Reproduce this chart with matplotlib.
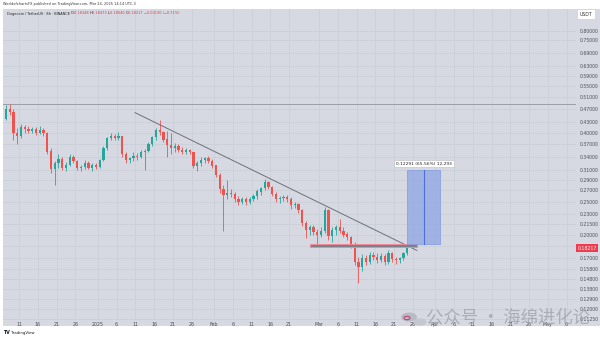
import numpy as np
import pandas as pd
import matplotlib
matplotlib.use("Agg")
import matplotlib.pyplot as plt
import matplotlib.dates as mdates
from matplotlib.patches import Rectangle, Circle

# daily DOGE/USDT candles, 6 Dec 2024 .. 24 Mar 2025
dates = pd.date_range("2024-12-06", "2025-03-24", freq="D")
opens = [.430, .440, .470, .462, .398, .390, .415, .410, .404, .410, .400, .408, .398, .352, .312, .325,
         .335, .315, .322, .340, .330, .314, .316, .326, .315, .320,
         .316, .332, .360, .385, .392, .386, .390, .345, .332, .336, .342, .340, .350, .354, .370, .388,
         .408, .402, .382, .368, .360, .366, .356, .350, .355, .350, .320, .325, .332, .336, .330,
         .320, .300, .272, .262, .266, .264, .255, .250, .254, .250, .255, .260, .268, .274, .286, .276,
         .264, .254, .256, .258, .254, .244, .246, .236, .216, .206, .210, .204,
         .200, .205, .236, .198, .206, .210, .205, .200, .196, .186, .166, .160, .170, .166, .174, .172,
         .168, .173, .166, .176, .169, .168, .170, .176]
highs = [.450, .482, .485, .470, .412, .425, .422, .418, .415, .416, .420, .412, .402, .360, .330, .345,
         .340, .328, .345, .344, .333, .322, .332, .330, .325, .326,
         .335, .365, .388, .398, .396, .402, .392, .350, .340, .350, .348, .355, .358, .375, .392, .412,
         .435, .406, .405, .398, .372, .370, .362, .360, .358, .352, .330, .338, .340, .342, .334,
         .322, .304, .280, .290, .272, .268, .260, .258, .258, .258, .264, .272, .276, .292, .288, .278,
         .268, .260, .262, .262, .258, .250, .248, .238, .220, .214, .214, .208,
         .210, .242, .238, .210, .214, .222, .210, .204, .198, .190, .172, .175, .174, .178, .178, .176,
         .176, .175, .180, .178, .172, .172, .178, .1847]
lows = [.420, .435, .450, .380, .370, .385, .400, .398, .398, .395, .396, .392, .345, .305, .280, .315,
        .310, .308, .318, .325, .310, .308, .312, .312, .308, .312,
        .314, .330, .355, .380, .380, .382, .340, .325, .325, .330, .332, .336, .310, .350, .365, .380,
        .395, .375, .340, .345, .352, .350, .345, .346, .345, .315, .308, .320, .326, .326, .315,
        .295, .265, .205, .255, .258, .250, .245, .246, .244, .246, .252, .255, .262, .270, .272, .260,
        .250, .248, .252, .250, .238, .240, .232, .212, .195, .200, .200, .185,
        .196, .202, .193, .190, .200, .202, .196, .192, .182, .162, .144, .156, .162, .164, .168, .165,
        .166, .162, .164, .166, .164, .165, .168, .1745]
closes = [.440, .470, .462, .398, .390, .415, .410, .404, .410, .400, .408, .398, .352, .312, .325, .335,
          .315, .322, .340, .330, .314, .316, .326, .315, .320, .316,
          .332, .360, .385, .392, .386, .390, .345, .332, .336, .342, .340, .350, .354, .370, .388, .408,
          .402, .382, .368, .360, .366, .356, .350, .355, .350, .320, .325, .332, .336, .330, .320,
          .300, .272, .262, .266, .264, .255, .250, .254, .250, .255, .260, .268, .274, .286, .276, .264,
          .254, .256, .258, .254, .244, .246, .236, .216, .206, .210, .204, .200,
          .205, .236, .198, .206, .210, .205, .200, .196, .186, .166, .160, .170, .166, .174, .172, .168,
          .173, .166, .176, .169, .168, .170, .176, .18217]

# drawings on the chart
trend_dates = ["2025-01-10 22:00", "2025-03-27 01:00"]
trend_prices = [0.4587, 0.1795]
zone_dates = ["2025-02-26 14:00", "2025-03-27 02:00"]
zone_prices = [0.1831, 0.1875]
proj_dates = ["2025-03-24 12:00", "2025-04-02 08:00"]
proj_prices = [0.18748, 0.31039]
level_price = 0.485

price_ticks = [0.80, 0.75, 0.69, 0.63, 0.59, 0.55, 0.51, 0.47, 0.43, 0.40, 0.37, 0.34, 0.31, 0.29,
               0.27, 0.25, 0.23, 0.215, 0.20, 0.185, 0.17, 0.158, 0.148, 0.138, 0.129, 0.12, 0.1125]
time_ticks = ["2024-12-11", "2024-12-16", "2024-12-21", "2024-12-26", "2025-01-01", "2025-01-06",
              "2025-01-11", "2025-01-16", "2025-01-21", "2025-01-26", "2025-02-01", "2025-02-06",
              "2025-02-11", "2025-02-16", "2025-02-21", "2025-03-01", "2025-03-06", "2025-03-11",
              "2025-03-16", "2025-03-21", "2025-03-26", "2025-04-01", "2025-04-06", "2025-04-11",
              "2025-04-16", "2025-04-21", "2025-04-26", "2025-05-01", "2025-05-06"]
time_labels = ["11", "16", "21", "26", "2025", "6", "11", "16", "21", "26", "Feb", "6", "11", "16",
               "21", "Mar", "6", "11", "16", "21", "26", "Apr", "6", "11", "16", "21", "26", "May", "6"]

bg = "#d6d9e1"
grid = "#cacfd8"
up, down = "#26a69a", "#ef5350"

fig = plt.figure(figsize=(6, 3.4), dpi=100, facecolor="white")
ax = fig.add_axes([3 / 600, 20 / 340, 573 / 600, 311 / 340])
ax.set_facecolor(bg)
ax.set_yscale("log")
ax.set_ylim(0.1117, 0.9295)
ax.set_xlim(mdates.date2num(pd.Timestamp("2024-12-06 17:00")), mdates.date2num(pd.Timestamp("2025-05-08 12:00")))

# grid
for p in price_ticks:
    ax.axhline(p, color=grid, lw=0.6, zorder=0)
tx = mdates.date2num(pd.to_datetime(time_ticks))
for t in tx:
    ax.axvline(t, color=grid, lw=0.6, zorder=0)

# candles
x = mdates.date2num(dates) + 0.5
o, h, l, c = map(np.array, (opens, highs, lows, closes))
col = np.where(c >= o, up, down)
ax.vlines(x, l, h, colors=col, lw=0.6, zorder=3)
ax.bar(x, np.abs(c - o) + 1e-4, bottom=np.minimum(o, c), width=0.55, color=col, zorder=4, lw=0)

# horizontal level and trendline
ax.axhline(level_price, color="#9a9ea8", lw=0.7, zorder=2)
ax.plot(mdates.date2num(pd.to_datetime(trend_dates)), trend_prices, color="#6c7079", lw=0.7, zorder=5)

# support zone
zx = mdates.date2num(pd.to_datetime(zone_dates))
ax.add_patch(Rectangle((zx[0], zone_prices[0]), zx[1] - zx[0], zone_prices[1] - zone_prices[0],
                       facecolor="#7b808a", edgecolor="#f08a98", lw=0.7, zorder=6))

# long projection box
px = mdates.date2num(pd.to_datetime(proj_dates))
ax.add_patch(Rectangle((px[0], proj_prices[0]), px[1] - px[0], proj_prices[1] - proj_prices[0],
                       facecolor="#8fa6e6", edgecolor="#7d95dd", alpha=0.75, lw=0.6, zorder=6))
mid = (px[0] + px[1]) / 2
ax.plot([mid, mid], proj_prices, color="#4e6fd8", lw=0.8, zorder=7)
ax.text(mid, proj_prices[1] * 1.045, "0.12291 (65.56%) 12,293", fontsize=3.2, ha="center", va="center",
        color="#222", zorder=8, bbox=dict(boxstyle="square,pad=0.4", fc="white", ec="#b8bcc5", lw=0.4))

# price axis on the right
ax.yaxis.tick_right()
ax.set_yticks(price_ticks)
ax.set_yticklabels([f"{p:.5f}" for p in price_ticks])
ax.yaxis.set_minor_locator(matplotlib.ticker.NullLocator())
ax.tick_params(axis="y", length=0, pad=3, labelsize=3.3, labelcolor="#4a4e57")
ax.set_xticks(tx)
ax.set_xticklabels(time_labels)
ax.tick_params(axis="x", length=0, pad=1.5, labelsize=3.4, labelcolor="#4a4e57")
for s in ax.spines.values():
    s.set_visible(False)

# axis background strips
fig.patches.append(Rectangle((576 / 600, 14 / 340), 24 / 600, 317 / 340, transform=fig.transFigure,
                             facecolor=bg, edgecolor="none", zorder=-1))
fig.patches.append(Rectangle((3 / 600, 14 / 340), 573 / 600, 6 / 340, transform=fig.transFigure,
                             facecolor=bg, edgecolor="none", zorder=-1))

# last price tag and currency box
fig.text(587 / 600, 1 - 248 / 340, "0.18217", fontsize=3.3, color="white", ha="center", va="center",
         bbox=dict(boxstyle="square,pad=0.35", fc="#ef3b4f", ec="none"))
fig.text(586 / 600, 1 - 14 / 340, "USDT", fontsize=3.3, color="#333", ha="center", va="center",
         bbox=dict(boxstyle="square,pad=0.6", fc="white", ec="#c4c8d0", lw=0.4))

# header lines, pieces placed one after another
fig.text(3 / 600, 1 - 4 / 340, "WorldofchartsFX published on TradingView.com, Mar 24, 2025 14:14 UTC-3",
         fontsize=2.5, color="#333", va="center")
renderer = fig.canvas.get_renderer()
pieces = [("Dogecoin / TetherUS · 8h · BINANCE ", "#222"),
          ("O", "#222"), ("0.18348 ", "#e0394c"),
          ("H", "#222"), ("0.18473 ", "#e0394c"),
          ("L", "#222"), ("0.18046 ", "#e0394c"),
          ("C", "#222"), ("0.18217 ", "#e0394c"),
          ("−0.00130 (−0.71%)", "#e0394c")]
xpos = 7
for s, cl in pieces:
    t = fig.text(xpos / 600, 1 - 13.5 / 340, s, fontsize=2.5, color=cl, va="center")
    xpos += t.get_window_extent(renderer).width

fig.text(3 / 600, 1 - 333 / 340, "TV", fontsize=3.4, color="#131722", weight="bold", va="center")
fig.text(11 / 600, 1 - 333 / 340, "TradingView", fontsize=2.8, color="#131722", va="center")

# watermark
for cx, cy, r, fc in [(409, 317, 8, "#b4b8c0"), (420, 322, 6.5, "#c3c6cd")]:
    fig.patches.append(Circle((cx / 600, 1 - cy / 340), r / 600, transform=fig.transFigure,
                              facecolor=fc, edgecolor="none", alpha=0.9, zorder=10))
fig.patches.append(Circle((407 / 600, 1 - 318 / 340), 3 / 600, transform=fig.transFigure,
                          facecolor="none", edgecolor="#c0407a", lw=0.8, zorder=11))
fig.text(508 / 600, 1 - 317 / 340, "公众号 · 海绵进化论", fontsize=12.5, color="#a2a6ae", alpha=0.85,
         ha="center", va="center", family=["Noto Sans CJK SC", "DejaVu Sans"], zorder=12)

fig.savefig("out.png", dpi=100, facecolor="white")
